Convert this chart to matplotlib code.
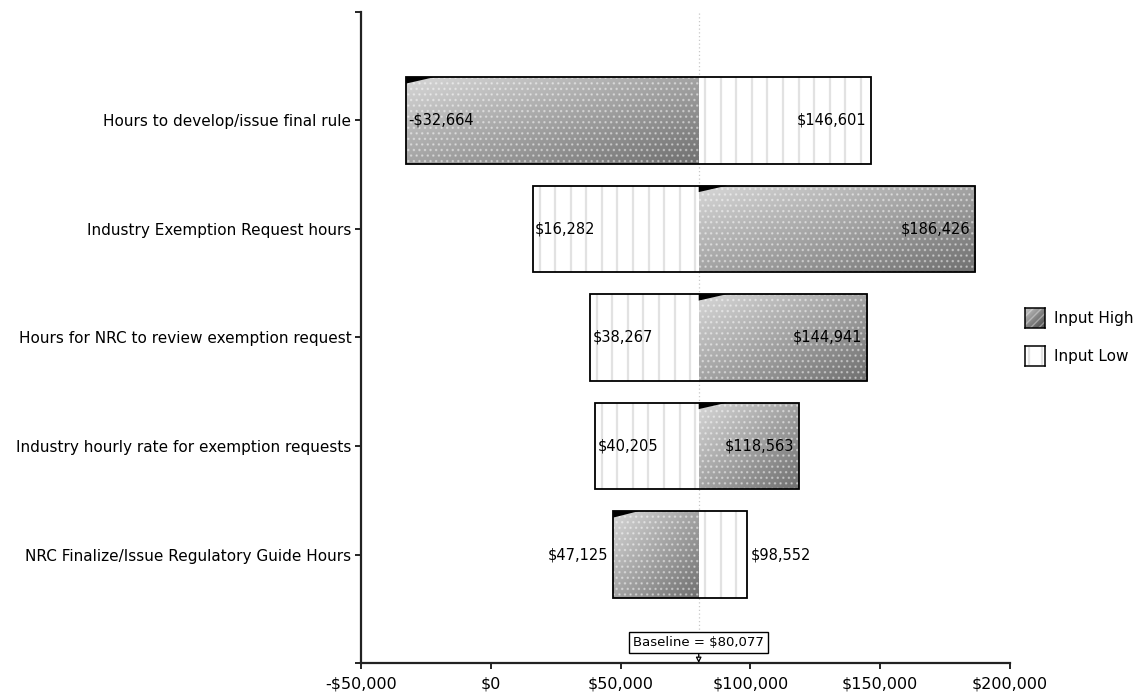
import numpy as np
import matplotlib.pyplot as plt
from matplotlib.patches import Rectangle, Polygon
from matplotlib.ticker import FuncFormatter

# Tornado data: output value when each input is set low / high
variables = [
    'Hours to develop/issue final rule',
    'Industry Exemption Request hours',
    'Hours for NRC to review exemption request',
    'Industry hourly rate for exemption requests',
    'NRC Finalize/Issue Regulatory Guide Hours',
]
low_out = [146601, 16282, 38267, 40205, 98552]
high_out = [-32664, 186426, 144941, 118563, 47125]
baseline = 80077

xticks = [-50000, 0, 50000, 100000, 150000, 200000]

plt.rcParams['font.family'] = 'DejaVu Sans'

fig = plt.figure(figsize=(11.48, 6.96), dpi=100)
ax = fig.add_axes([0.3145, 0.0474, 0.5653, 0.9354])

H = 0.8
grad = np.add.outer(np.linspace(0, 1, 60), np.linspace(0, 1, 200)) / 2.0
GMIN, GMAX = -0.4, 2.1


def money(v, pos=None):
    return f'-${abs(v):,.0f}' if v < 0 else f'${v:,.0f}'


def gray_bar(x0, x1, yc):
    lo, hi = min(x0, x1), max(x0, x1)
    rect = Rectangle((lo, yc - H / 2), hi - lo, H, facecolor='none',
                     edgecolor='none')
    ax.add_patch(rect)
    im = ax.imshow(grad, cmap='gray_r', vmin=GMIN, vmax=GMAX,
                   extent=(lo, hi, yc + H / 2, yc - H / 2),
                   aspect='auto', interpolation='bilinear', zorder=1)
    im.set_clip_path(rect)
    dots = Rectangle((lo, yc - H / 2), hi - lo, H, facecolor='none',
                     edgecolor='white', hatch='...', lw=0, alpha=0.4,
                     zorder=1.5)
    ax.add_patch(dots)
    # dark wedge at the upper left corner of the shaded part
    w = min(11000, (hi - lo) * 0.3)
    ax.add_patch(Polygon([(lo, yc - H / 2), (lo + w, yc - H / 2),
                          (lo, yc - H / 2 + 0.06)], closed=True,
                         facecolor='black', edgecolor='none', zorder=2))


def white_bar(x0, x1, yc):
    lo, hi = min(x0, x1), max(x0, x1)
    ax.add_patch(Rectangle((lo, yc - H / 2), hi - lo, H, facecolor='white',
                           edgecolor='none', zorder=1))
    xs = np.arange(lo + 2500, hi - 500, 6000)
    ax.vlines(xs, yc - H / 2, yc + H / 2, color='#e2e2e2', lw=1.6, zorder=1.5)


ax.axvline(baseline, color='#c8c8c8', lw=0.9, ls=(0, (1, 2)), zorder=0)

for i, (lo_v, hi_v) in enumerate(zip(low_out, high_out)):
    gray_bar(baseline, hi_v, i)
    white_bar(baseline, lo_v, i)
    left, right = min(lo_v, hi_v), max(lo_v, hi_v)
    ax.add_patch(Rectangle((left, i - H / 2), right - left, H,
                           facecolor='none', edgecolor='black', lw=1.3,
                           zorder=3))
    if right - left > 60000:
        ax.text(left + 800, i, money(left), ha='left', va='center',
                fontsize=10.5, zorder=4)
        ax.text(right - 1800, i, money(right), ha='right', va='center',
                fontsize=10.5, zorder=4)
    else:
        ax.text(left - 2000, i, money(left), ha='right', va='center',
                fontsize=10.5, zorder=4)
        ax.text(right + 1500, i, money(right), ha='left', va='center',
                fontsize=10.5, zorder=4)

ax.annotate(f'Baseline = {money(baseline)}', xy=(baseline, 5.0),
            xytext=(baseline, 4.81), ha='center', va='center', fontsize=9.5,
            bbox=dict(boxstyle='square,pad=0.3', fc='white', ec='black',
                      lw=1),
            arrowprops=dict(arrowstyle='-|>', color='black', lw=0.9,
                            fc='white', mutation_scale=8,
                            shrinkA=0, shrinkB=0),
            zorder=5)

ax.set_xlim(-50000, 200000)
ax.set_ylim(5, -1)
ax.set_xticks(xticks)
ax.xaxis.set_major_formatter(FuncFormatter(money))
ax.set_yticks(range(-1, 6))
ax.set_yticklabels([''] + variables + [''])
ax.tick_params(axis='both', length=4, width=1.2)
ax.tick_params(axis='y', labelsize=11, pad=3)
ax.tick_params(axis='x', labelsize=11.5, pad=6)
for side in ('top', 'right'):
    ax.spines[side].set_visible(False)
for side in ('left', 'bottom'):
    ax.spines[side].set_linewidth(1.6)
    ax.spines[side].set_color('#222222')

# legend swatches
sw_h = fig.add_axes([1025 / 1148, 1 - 328 / 696, 20 / 1148, 20 / 696])
sw_h.imshow(grad, cmap='gray_r', vmin=GMIN, vmax=GMAX - 0.6, aspect='auto')
sw_h.add_patch(Rectangle((0, 0), 1, 1, transform=sw_h.transAxes,
                         facecolor='none', edgecolor='white', hatch='////',
                         lw=0, alpha=0.35))
sw_l = fig.add_axes([1025 / 1148, 1 - 366 / 696, 20 / 1148, 20 / 696])
sw_l.set_xlim(0, 1)
sw_l.vlines([0.2, 0.85], 0, 1, color='#e2e2e2', lw=1.6)
for sw in (sw_h, sw_l):
    sw.set_xticks([])
    sw.set_yticks([])
    for s in sw.spines.values():
        s.set_linewidth(1.1)
fig.text(1054 / 1148, 1 - 318 / 696, 'Input High', fontsize=11,
         va='center')
fig.text(1054 / 1148, 1 - 356 / 696, 'Input Low', fontsize=11,
         va='center')

fig.savefig('out.png', dpi=100)
